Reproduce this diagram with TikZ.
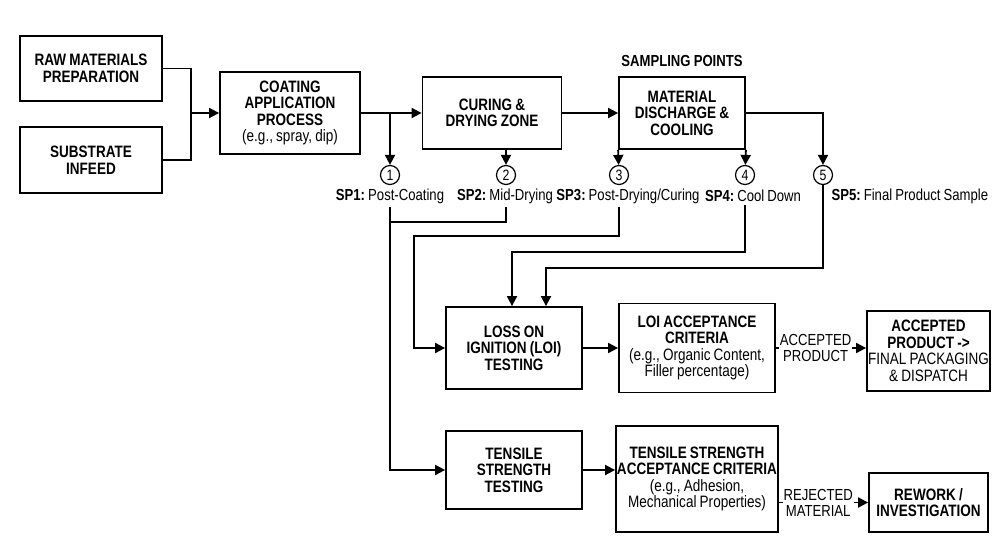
\documentclass[tikz,border=0pt]{standalone}
\usepackage{fontspec}
\setmainfont[FakeStretch=0.82,WordSpace=0.85]{Liberation Sans}
\usetikzlibrary{arrows.meta}
\newcommand{\hd}[1]{\textbf{#1}}

\begin{document}
\frenchspacing
\begin{tikzpicture}[x=1pt,y=-1pt,
  font=\fontsize{16.5}{16.5}\selectfont,
  box/.style={draw,line width=1.8pt,align=center,inner sep=1pt},
  circ/.style={draw,circle,line width=1.2pt,minimum size=19pt,inner sep=0pt,font=\fontsize{15}{15}\selectfont},
  splbl/.style={font=\fontsize{16}{16}\selectfont},
  line/.style={line width=1.8pt},
  arr/.style={line,-{Triangle[length=10pt,width=10pt]}},
  lbl/.style={fill=white,inner sep=1pt,align=center,font=\fontsize{16}{16}\selectfont}]
  \useasboundingbox (0,0) rectangle (1000,545);

  % process line
  \node[box,minimum width=142pt,minimum height=65pt] (raw) at (91,68.5) {\hd{RAW MATERIALS}\\\hd{PREPARATION}};
  \node[box,minimum width=142pt,minimum height=66pt] (sub) at (91,160) {\hd{SUBSTRATE}\\\hd{INFEED}};
  \node[box,minimum width=140pt,minimum height=82pt] (coat) at (290,113) {\hd{COATING}\\\hd{APPLICATION}\\\hd{PROCESS}\\(e.g., spray, dip)};
  \node[box,minimum width=139pt,minimum height=72pt] (cure) at (492,113) {\hd{CURING \&}\\\hd{DRYING ZONE}};
  \node[box,minimum width=126pt,minimum height=72pt] (mat) at (682,113) {\hd{MATERIAL}\\\hd{DISCHARGE \&}\\\hd{COOLING}};
  \node[splbl] (title) at (682,61) {\hd{SAMPLING POINTS}};

  % sampling points
  \node[circ] (c1) at (390,175) {1};
  \node[circ] (c2) at (506,175) {2};
  \node[circ] (c3) at (619,175) {3};
  \node[circ] (c4) at (745,175) {4};
  \node[circ] (c5) at (823,175) {5};
  \node[splbl] (l1) at (390,196) {\hd{SP1:} Post-Coating};
  \node[splbl] (l2) at (505,196) {\hd{SP2:} Mid-Drying};
  \node[splbl] (l3) at (628,196) {\hd{SP3:} Post-Drying/Curing};
  \node[splbl] (l4) at (753,196) {\hd{SP4:} Cool Down};
  \node[splbl,anchor=west] (l5) at (828,196) {\hd{SP5:} Final Product Sample};

  % testing
  \node[box,minimum width=136pt,minimum height=82pt] (loi) at (514,348) {\hd{LOSS ON}\\\hd{IGNITION (LOI)}\\\hd{TESTING}};
  \node[box,minimum width=156pt,minimum height=89pt] (lacc) at (697,348) {\hd{LOI ACCEPTANCE}\\\hd{CRITERIA}\\(e.g., Organic Content,\\Filler percentage)};
  \node[box,minimum width=119pt,minimum height=80pt] (final) at (928.5,351) {\hd{ACCEPTED}\\\hd{PRODUCT ->}\\FINAL PACKAGING\\\& DISPATCH};
  \node[box,minimum width=136pt,minimum height=78pt] (tens) at (514,470) {\hd{TENSILE}\\\hd{STRENGTH}\\\hd{TESTING}};
  \node[box,minimum width=156pt,minimum height=106pt] (tacc) at (697,479) {\hd{TENSILE STRENGTH}\\\hd{ACCEPTANCE CRITERIA}\\(e.g., Adhesion,\\Mechanical Properties)};
  \node[box,minimum width=119pt,minimum height=59pt] (rework) at (928.5,502.5) {\hd{REWORK /}\\\hd{INVESTIGATION}};

  \coordinate (jn) at (191,113);
  \coordinate (j1) at (390,222);
  \coordinate (k3) at (414,236);
  \coordinate (k4) at (512,252);
  \coordinate (k5) at (546,268);

  \draw[line] (raw.east) -| (jn);
  \draw[line] (sub.east) -| (jn);
  \draw[arr] (jn) -- (coat.west);
  \draw[arr] (coat.east) -- (cure.west);
  \draw[arr] (c1 |- coat.east) -- (c1);
  \draw[arr] (cure.south -| c2) -- (c2);
  \draw[arr] (cure.east) -- (mat.west);
  \draw[arr] (mat.south west) -- (c3);
  \draw[arr] (mat.south east) -- (c4);
  \draw[arr] (mat.east) -| (c5);

  \draw[arr] (l1.south) |- (tens.west);
  \draw[line] (c2 |- l2.south) |- (j1);
  \draw[arr] (c3 |- l3.south) |- (k3) |- (loi.west);
  \draw[arr] (c4 |- l4.south) |- (k4) -- (k4 |- loi.north);
  \draw[arr] (c5) |- (k5) -- (k5 |- loi.north);

  \draw[arr] (loi.east) -- (lacc.west);
  \draw[arr] (lacc.east) -- node[lbl,pos=0.44] {ACCEPTED\\PRODUCT} (lacc.east -| final.west);
  \draw[arr] (tens.east) -- (tens.east -| tacc.west);
  \draw[arr] (rework.west -| tacc.east) -- node[lbl,pos=0.44] {REJECTED\\MATERIAL} (rework.west);
\end{tikzpicture}
\end{document}
